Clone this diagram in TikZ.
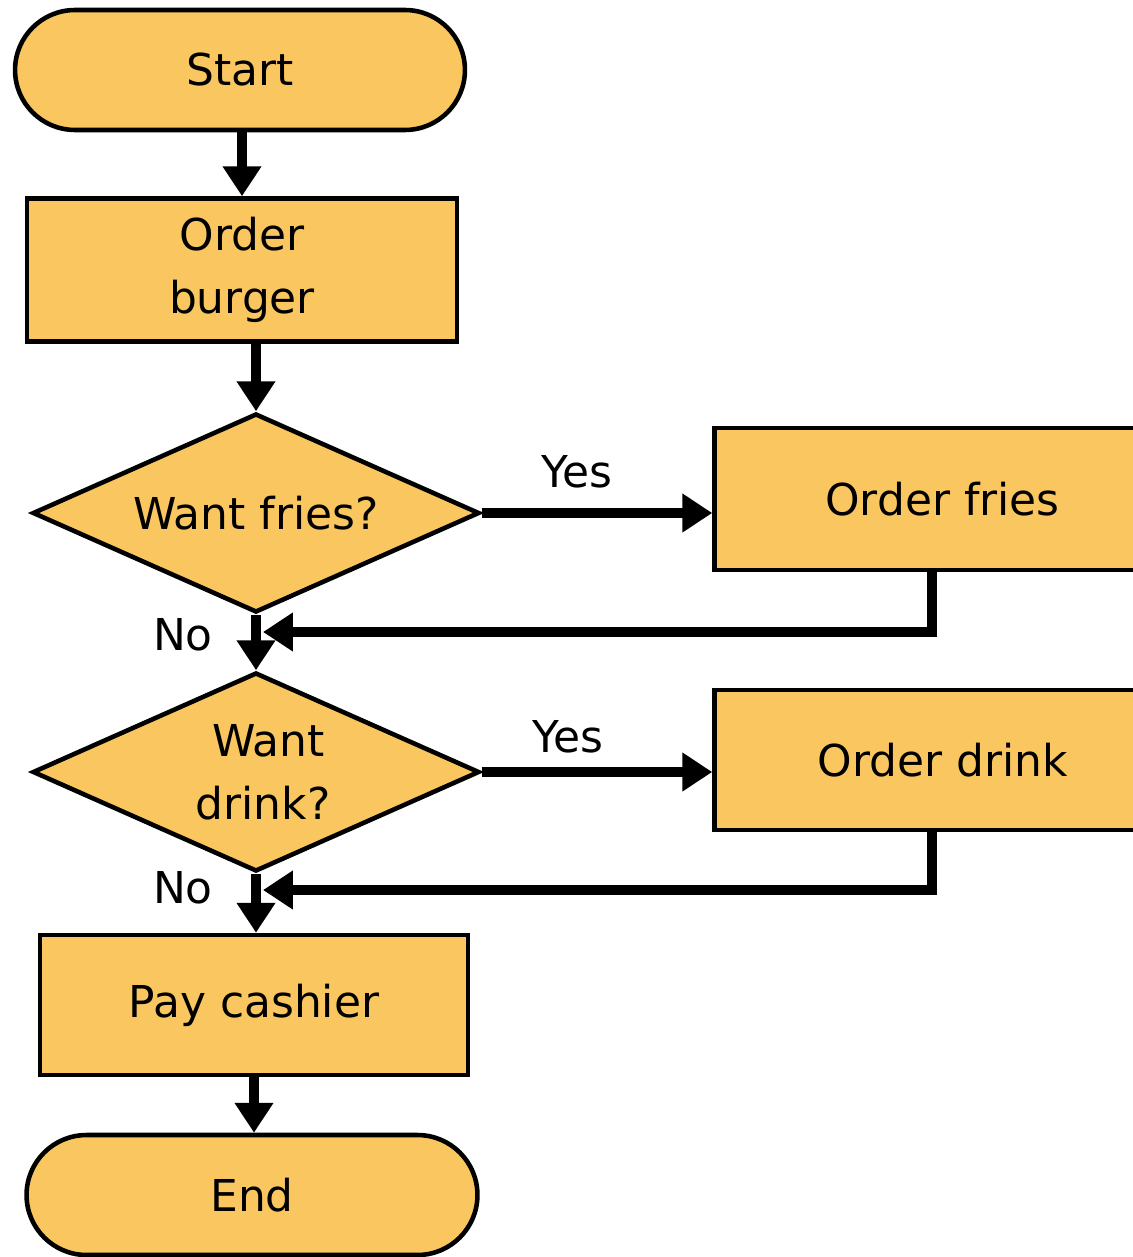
\documentclass[tikz,border=0pt]{standalone}
\usepackage{fontspec}
\setmainfont{DejaVu Sans}
\usetikzlibrary{shapes.geometric,arrows.meta}
\definecolor{Burger}{RGB}{250,198,96}

\begin{document}
\begin{tikzpicture}[x=0.02cm,y=-0.02cm,
  font=\fontsize{25}{36}\selectfont,
  term/.style={draw,fill=Burger,line width=2.6pt,rounded corners=1.2cm,minimum width=9cm,minimum height=2.4cm},
  box/.style={draw,fill=Burger,line width=2.6pt,align=center},
  test/.style={diamond,draw,fill=Burger,line width=2.6pt,minimum width=8.94cm,minimum height=3.98cm,aspect=2.25,inner sep=0pt,align=center},
  flow/.style={line width=5.5pt,-{Triangle[length=17pt,width=21pt]}}]
\useasboundingbox (0,0) rectangle (1132,1257);
%\node {\includegraphics{burger.jpg}};
\node[term] (start) at (240,70) {Start};
\node[box,minimum width=8.6cm,minimum height=2.86cm] (burger) at (242,270) {Order\\burger};
\node[test] (fries) at (256,513) {Want fries?};
\node[box,minimum width=8.7cm,minimum height=2.84cm] (ofries) at (932,499) {\hspace*{12pt}Order fries};
\node[test] (drink) at (256,772) {\hspace*{14pt}Want\\\hspace*{8pt}drink?};
\node[box,minimum width=8.7cm,minimum height=2.8cm] (odrink) at (932,760) {\hspace*{12pt}Order drink};
\node[box,minimum width=8.56cm,minimum height=2.8cm] (pay) at (254,1005) {Pay cashier};
\node[term,minimum width=9.02cm] (end) at (252,1195) {End};
\coordinate (j1) at (263,632);
\coordinate (j2) at (263,890);
\draw[flow] (start.south -| burger) -- (burger);
\draw[flow] (burger.south -| fries) -- (fries);
\draw[flow] (fries.east) -- (fries.east -| ofries.west);
\draw[flow] (ofries.south) |- (j1);
\draw[flow] (fries) -- (drink);
\draw[flow] (drink.east) -- (drink.east -| odrink.west);
\draw[flow] (odrink.south) |- (j2);
\draw[flow] (drink.south) -- (drink.south |- pay.north);
\draw[flow] (pay.south) -- (pay.south |- end.north);
\node (yes1) at (577,472) {Yes};
\node (no1) at (183,635) {No};
\node (yes2) at (568,737) {Yes};
\node (no2) at (183,888) {No};
\end{tikzpicture}
\end{document}
